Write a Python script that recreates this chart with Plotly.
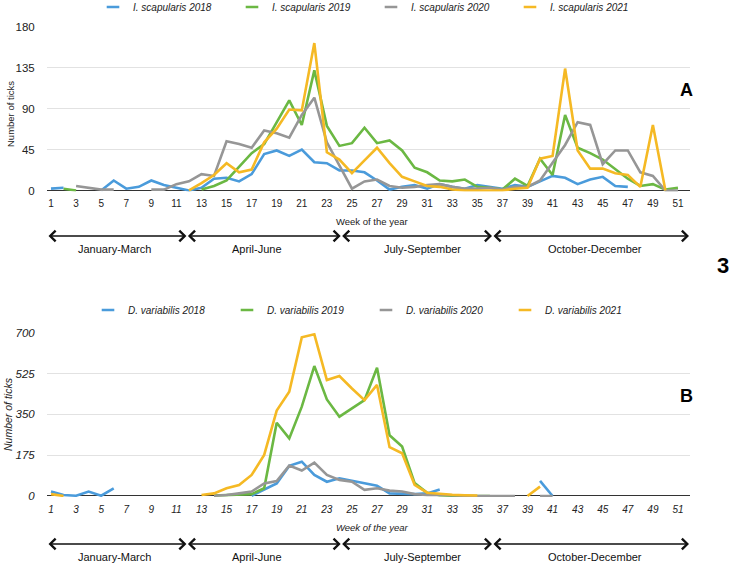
import plotly.graph_objects as go

W, H = 729, 565
N = None
FONT = "Liberation Sans"

weeks = list(range(1, 52))
week_ticks = list(range(1, 52, 2))

# ---- Panel A: I. scapularis (ticks per week) ----
isc_2018 = [2, 3, N, N, 0, 11, 2, 4, 11, 6, 3, 0, 3, 13, 14, 10, 18, 40, 44, 38,
            45, 31, 30, 22, 22, 20, 11, 1, 4, 6, 2, 7, 4, 2, 6, 4, 2, 6, 4, 10,
            16, 14, 7, 12, 15, 5, 4, N, N, N, N]
isc_2019 = [N, 2, 0, N, N, N, N, N, N, N, N, N, 1, 5, 11, 26, 41, 51, 75, 99,
            72, 132, 71, 49, 52, 69, 52, 55, 44, 25, 20, 11, 10, 12, 4, 3, 1, 13, 5, 35,
            17, 83, 47, 41, 34, 23, 13, 5, 7, 1, 3]
isc_2020 = [N, N, 5, 3, 1, 1, N, N, 1, 1, 7, 10, 18, 16, 54, 51, 47, 66, 63, 58,
            83, 102, 53, 27, 2, 10, 12, 5, 3, 4, 6, 7, 4, 2, 2, 3, 1, 4, 4, 11,
            31, 50, 75, 72, 29, 44, 44, 20, 16, 0, 0]
isc_2021 = [N, N, N, N, N, N, N, N, N, N, N, 0, 8, 17, 30, 20, 23, 53, 68, 89,
            88, 162, 42, 34, 19, 33, 47, 30, 15, 10, 5, 4, 1, 0, 0, 0, 0, 2, 3, 35,
            38, 134, 44, 24, 24, 19, 17, 4, 72, 0, N]

# ---- Panel B: D. variabilis (ticks per week) ----
dva_2018 = [19, 4, 1, 19, 1, 33, N, N, N, N, N, N, N, N, N, N, 1, 26, 54, 129,
            147, 90, 61, 76, 66, 54, 44, 11, 8, 8, 11, 28, N, N, N, N, N, N, N, 65,
            0, N, N, N, N, N, N, N, N, N, N]
dva_2019 = [N, N, N, N, N, N, N, N, N, N, N, N, N, 2, 3, 5, 8, 33, 314, 247,
            383, 557, 414, 340, 376, 411, 550, 260, 212, 55, 14, 3, 1, 0, 0, 0, N, N, N, N,
            N, N, N, N, N, N, N, N, N, N, N]
dva_2020 = [N, N, N, N, N, N, N, N, N, N, N, N, N, 1, 4, 11, 19, 54, 64, 130,
            109, 143, 90, 69, 61, 26, 33, 23, 19, 8, 4, 5, 2, 1, 0, 0, 0, 0, N, 0,
            0, N, N, N, N, N, N, N, N, N, N]
dva_2021 = [8, 0, N, N, N, N, N, N, N, N, N, N, 4, 11, 33, 47, 90, 176, 366, 447,
            680, 693, 497, 514, 461, 411, 476, 209, 183, 48, 14, 8, 5, 3, 2, N, N, N, 0, 40,
            N, N, N, N, N, N, N, N, N, N, N]

isc_names = ["I. scapularis 2018", "I. scapularis 2019", "I. scapularis 2020", "I. scapularis 2021"]
dva_names = ["D. variabilis 2018", "D. variabilis 2019", "D. variabilis 2020", "D. variabilis 2021"]
colors = ["#4a9bdb", "#6bb843", "#969696", "#f5b924"]

top_yticks = [0, 45, 90, 135, 180]
bot_yticks = [0, 175, 350, 525, 700]

quarter_labels = ["January-March", "April-June", "July-September", "October-December"]
quarter_bounds = [0.68, 11.8, 24.1, 36.17, 51.88]   # in weeks
quarter_label_pos = [6.1, 17.4, 30.6, 44.4]          # in weeks

isc_series = [isc_2018, isc_2019, isc_2020, isc_2021]
dva_series = [dva_2018, dva_2019, dva_2020, dva_2021]


def py(pix):
    return 1 - pix / H


fig = go.Figure()

for vals, col in zip(isc_series, colors):
    fig.add_trace(go.Scatter(x=weeks, y=vals, mode="lines", xaxis="x", yaxis="y",
                             line=dict(color=col, width=2.6), showlegend=False,
                             hoverinfo="skip"))
for vals, col in zip(dva_series, colors):
    fig.add_trace(go.Scatter(x=weeks, y=vals, mode="lines", xaxis="x2", yaxis="y2",
                             line=dict(color=col, width=2.6), showlegend=False,
                             hoverinfo="skip"))
# legend entries (short line glyphs)
for name, col in zip(isc_names, colors):
    fig.add_trace(go.Scatter(x=[None], y=[None], mode="markers", xaxis="x", yaxis="y",
                             name=name, legend="legend",
                             marker=dict(symbol="line-ew", size=9, color=col,
                                         line=dict(color=col, width=2.5))))
for name, col in zip(dva_names, colors):
    fig.add_trace(go.Scatter(x=[None], y=[None], mode="markers", xaxis="x2", yaxis="y2",
                             name=name, legend="legend2",
                             marker=dict(symbol="line-ew", size=9, color=col,
                                         line=dict(color=col, width=2.5))))

xdom = [47 / W, 690 / W]
xrange_ = [0.68, 51.96]

common_x = dict(domain=xdom, range=xrange_, tickmode="array", tickvals=week_ticks,
                showgrid=False, zeroline=False, showline=False,
                ticks="outside", ticklen=3, tickcolor="rgba(0,0,0,0)")
common_y = dict(tickmode="array", showgrid=True, gridcolor="#e2e2e2", gridwidth=1,
                zeroline=True, zerolinecolor="#333333", zerolinewidth=1,
                showline=False, ticks="outside", ticklen=9, tickcolor="rgba(0,0,0,0)")

fig.update_layout(
    width=W, height=H, margin=dict(l=0, r=0, t=0, b=0, pad=0, autoexpand=False),
    plot_bgcolor="white", paper_bgcolor="white",
    font=dict(family=FONT, color="#222222"),
    xaxis=dict(**common_x, anchor="y",
               tickfont=dict(family=FONT, size=10, color="#222")),
    yaxis=dict(**common_y, domain=[py(191.4), py(26.7)], range=[-1, 180],
               tickvals=top_yticks, anchor="x",
               tickfont=dict(family=FONT, size=11.5, color="#222")),
    xaxis2=dict(**common_x, anchor="y2",
                tickfont=dict(family=FONT, size=10, color="#222", style="italic")),
    yaxis2=dict(**common_y, domain=[py(496.9), py(332.7)], range=[-4, 700],
                tickvals=bot_yticks, anchor="x2",
                tickfont=dict(family=FONT, size=11.5, color="#222", style="italic")),
    legend=dict(orientation="h", x=93 / W, xanchor="left", y=py(7), yanchor="middle",
                font=dict(family=FONT, size=10, style="italic", color="#222"),
                entrywidth=94, entrywidthmode="pixels", bgcolor="rgba(0,0,0,0)"),
    legend2=dict(orientation="h", x=88 / W, xanchor="left", y=py(310), yanchor="middle",
                 font=dict(family=FONT, size=10, style="italic", color="#222"),
                 entrywidth=94, entrywidthmode="pixels", bgcolor="rgba(0,0,0,0)"),
)

ann = []
# axis titles
ann.append(dict(text="Number of ticks", x=10 / W, y=py(114), xref="paper", yref="paper",
                xanchor="center", yanchor="middle",
                textangle=-90, showarrow=False, font=dict(size=9.5)))
ann.append(dict(text="Number of ticks", x=8 / W, y=py(414), xref="paper", yref="paper",
                xanchor="center", yanchor="middle",
                textangle=-90, showarrow=False, font=dict(size=10.5, style="italic")))
ann.append(dict(text="Week of the year", x=372 / W, y=py(221), xref="paper", yref="paper",
                xanchor="center", yanchor="middle",
                showarrow=False, font=dict(size=9.5)))
ann.append(dict(text="Week of the year", x=372 / W, y=py(527), xref="paper", yref="paper",
                xanchor="center", yanchor="middle",
                showarrow=False, font=dict(size=9.5, style="italic")))
# panel letters
ann.append(dict(text="<b>A</b>", x=686 / W, y=py(90), xref="paper", yref="paper",
                xanchor="center", yanchor="middle",
                showarrow=False, font=dict(size=18, color="black")))
ann.append(dict(text="<b>B</b>", x=686 / W, y=py(396), xref="paper", yref="paper",
                xanchor="center", yanchor="middle",
                showarrow=False, font=dict(size=18, color="black")))
ann.append(dict(text="<b>3</b>", x=723 / W, y=py(265), xref="paper", yref="paper",
                xanchor="center", yanchor="middle",
                showarrow=False, font=dict(size=22, color="black")))

# quarter arrows and labels
for xa, ya_arrow, ya_text in [("x", 236, 249), ("x2", 544, 557)]:
    for i in range(4):
        ann.append(dict(text="", x=quarter_bounds[i + 1], ax=quarter_bounds[i],
                        xref=xa, axref=xa, y=py(ya_arrow), yref="paper",
                        ay=0, ayref="pixel", showarrow=True,
                        arrowhead=4, startarrowhead=4, arrowside="end+start",
                        arrowsize=1.4, startarrowsize=1.4, arrowwidth=1.5,
                        arrowcolor="#111111", standoff=0, startstandoff=0))
        ann.append(dict(text=quarter_labels[i], x=quarter_label_pos[i], xref=xa,
                        y=py(ya_text), yref="paper", showarrow=False,
                        xanchor="center", yanchor="middle",
                        font=dict(size=11, color="#111")))

fig.update_layout(annotations=ann)
fig.write_html("out.html", config={"displayModeBar": False},
               post_script="document.body.style.margin='0px';document.body.style.overflow='hidden';")
